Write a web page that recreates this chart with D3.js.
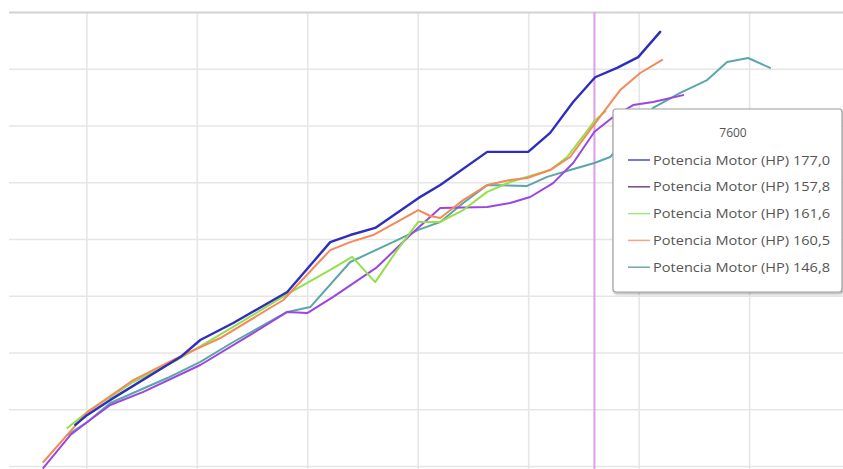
<!DOCTYPE html>
<html><head><meta charset="utf-8">
<script src="https://cdn.jsdelivr.net/npm/d3@7"></script>
<style>html,body{margin:0;padding:0;background:#fff;overflow:hidden}</style>
</head><body>
<svg id="c" width="843" height="469"></svg>
<script>
// ---- data ----
const seriesNames = ["Potencia Motor (HP)","Potencia Motor (HP)","Potencia Motor (HP)","Potencia Motor (HP)","Potencia Motor (HP)"];
const seriesColors = ["#2e2ebc","#9a46e0","#93e04c","#f4895a","#5ca6a8"];
const legendColors = ["#4a48d0","#7a4484","#a6e27a","#f4a486","#74a6a8"];
const hoverRpm = 7600;
const hoverValues = [177.0, 157.8, 161.6, 160.5, 146.8];
const xTicks = [3000,4000,5000,6000,7000,8000,9000];
const yTicks = [40,60,80,100,120,140,160,180,200];

const blueRpm = [2900,3009,3217,3851,4032,4330,4819,5208,5389,5615,6005,6204,6629,7000,7199,7407,7606,7805,7996,8195];
const blueHp  = [54.5,58.0,63.3,78.4,84.4,90.4,101.3,118.9,121.4,123.9,134.4,139.0,150.7,150.7,157.4,168.3,177.0,180.3,184.1,193.0];

const purpleRpm = [2611,2855,3009,3217,3516,4032,4484,4819,5000,5235,5633,5932,6204,6629,6837,7018,7226,7407,7600,7769,7950,8131,8403];
const purpleHp  = [39.3,50.9,55.5,61.5,66.1,75.6,86.2,94.3,93.9,99.6,110.1,121.4,130.9,131.3,132.7,134.8,139.7,146.8,157.8,163.0,167.2,168.3,170.7];

const greenRpm = [2828,3009,3425,3823,4330,4819,5208,5407,5615,5814,6005,6204,6412,6629,6837,7199,7353,7561,7600,7700];
const greenHp  = [53.4,59.0,69.6,77.4,89.0,100.6,109.1,113.7,104.8,116.1,126.0,126.0,130.2,136.6,140.1,144.3,148.9,159.5,161.6,165.0];

const orangeRpm = [2611,3009,3425,3823,4213,4783,5208,5389,5597,6005,6113,6204,6412,6629,6837,6991,7199,7380,7600,7833,8014,8213];
const orangeHp  = [41.4,59.0,70.3,78.1,85.1,98.5,116.1,118.9,121.4,130.2,128.1,127.4,133.7,139.0,140.8,141.5,144.3,148.9,160.5,172.5,178.5,183.1];

const tealRpm = [2828,3009,3217,3733,4032,4330,4819,5027,5389,5814,6005,6204,6412,6629,6991,7172,7380,7600,7742,7923,8131,8376,8620,8801,8991,9190];
const tealHp  = [50.9,55.5,62.2,71.0,76.7,83.7,94.3,96.0,111.9,119.6,123.2,126.0,132.7,139.0,138.7,141.9,144.3,146.8,148.9,156.6,166.2,171.5,176.0,182.4,183.8,180.3];

const series = [
  {rpm: blueRpm, hp: blueHp},
  {rpm: purpleRpm, hp: purpleHp},
  {rpm: greenRpm, hp: greenHp},
  {rpm: orangeRpm, hp: orangeHp},
  {rpm: tealRpm, hp: tealHp}
];

// ---- chart ----
const W = 843, H = 469;
const pL = 9, pR = 843, pT = 12, pB = 466;
const x = d3.scaleLinear().domain([2300, 9850]).range([pL, pR]);
const y = d3.scaleLinear().domain([40, 200]).range([pB, pT]);
const svg = d3.select("#c");
const defs = svg.append("defs");

defs.append("clipPath").attr("id","clip")
  .append("rect").attr("x",pL).attr("y",pT).attr("width",pR-pL).attr("height",H-pT);

// gridlines via axes
const gx = svg.append("g").attr("transform",`translate(0,${H})`)
  .call(d3.axisBottom(x).tickValues(xTicks).tickSize(-(H-pT)).tickFormat(""));
gx.select(".domain").remove();
gx.selectAll(".tick line").attr("stroke","#e6e6e6").attr("stroke-width",1.6);

const gy = svg.append("g").attr("transform",`translate(${pL},0)`)
  .call(d3.axisRight(y).tickValues(yTicks).tickSize(pR-pL).tickFormat(""));
gy.select(".domain").remove();
gy.selectAll(".tick line").attr("stroke","#e6e6e6").attr("stroke-width",1.6)
  .filter(d => d === 200).attr("stroke","#d2d2d2").attr("stroke-width",2);

// crosshair
svg.append("line").attr("x1",x(hoverRpm)).attr("x2",x(hoverRpm)).attr("y1",pT).attr("y2",H)
  .attr("stroke","#df9fe6").attr("stroke-width",2);

// lines
const line = d3.line().x(d => x(d[0])).y(d => y(d[1]));
const order = [4,1,2,3,0];
const lg = svg.append("g").attr("clip-path","url(#clip)");
order.forEach(i => {
  const s = series[i];
  const pts = s.rpm.map((r,k) => [r, s.hp[k]]);
  lg.append("path").attr("d", line(pts)).attr("fill","none")
    .attr("stroke", seriesColors[i]).attr("stroke-width", i===0 ? 2.4 : 2)
    .attr("stroke-linejoin","round").attr("stroke-linecap","round");
});

// tooltip
const tx = 613, ty = 109, tw = 229, th = 183;
const filt = defs.append("filter").attr("id","sh").attr("x","-10%").attr("y","-10%").attr("width","130%").attr("height","130%");
filt.append("feDropShadow").attr("dx",1).attr("dy",1.5).attr("stdDeviation",1).attr("flood-color","#000").attr("flood-opacity",0.35);
const tt = svg.append("g");
tt.append("rect").attr("x",tx).attr("y",ty).attr("width",tw).attr("height",th).attr("rx",3)
  .attr("fill","#fff").attr("stroke","#a0a0a0").attr("stroke-width",1.2).attr("filter","url(#sh)");
tt.append("text").attr("x",733).attr("y",137).attr("text-anchor","middle")
  .attr("font-family","'Open Sans', 'Noto Sans', sans-serif").attr("font-size",12).attr("fill","#555")
  .text(String(hoverRpm));
const fmt = v => v.toFixed(1).replace(".", ",");
hoverValues.forEach((v,i) => {
  const cy = 160 + i*26.8;
  tt.append("line").attr("x1",628).attr("x2",650).attr("y1",cy).attr("y2",cy)
    .attr("stroke",legendColors[i]).attr("stroke-width",1.5);
  tt.append("text").attr("x",653).attr("y",cy+4.5)
    .attr("font-family","'Open Sans', 'Noto Sans', sans-serif").attr("font-size",12.3).attr("fill","#555")
    .attr("textLength",177).attr("lengthAdjust","spacingAndGlyphs")
    .text(seriesNames[i] + " " + fmt(v));
});
</script>
</body></html>
